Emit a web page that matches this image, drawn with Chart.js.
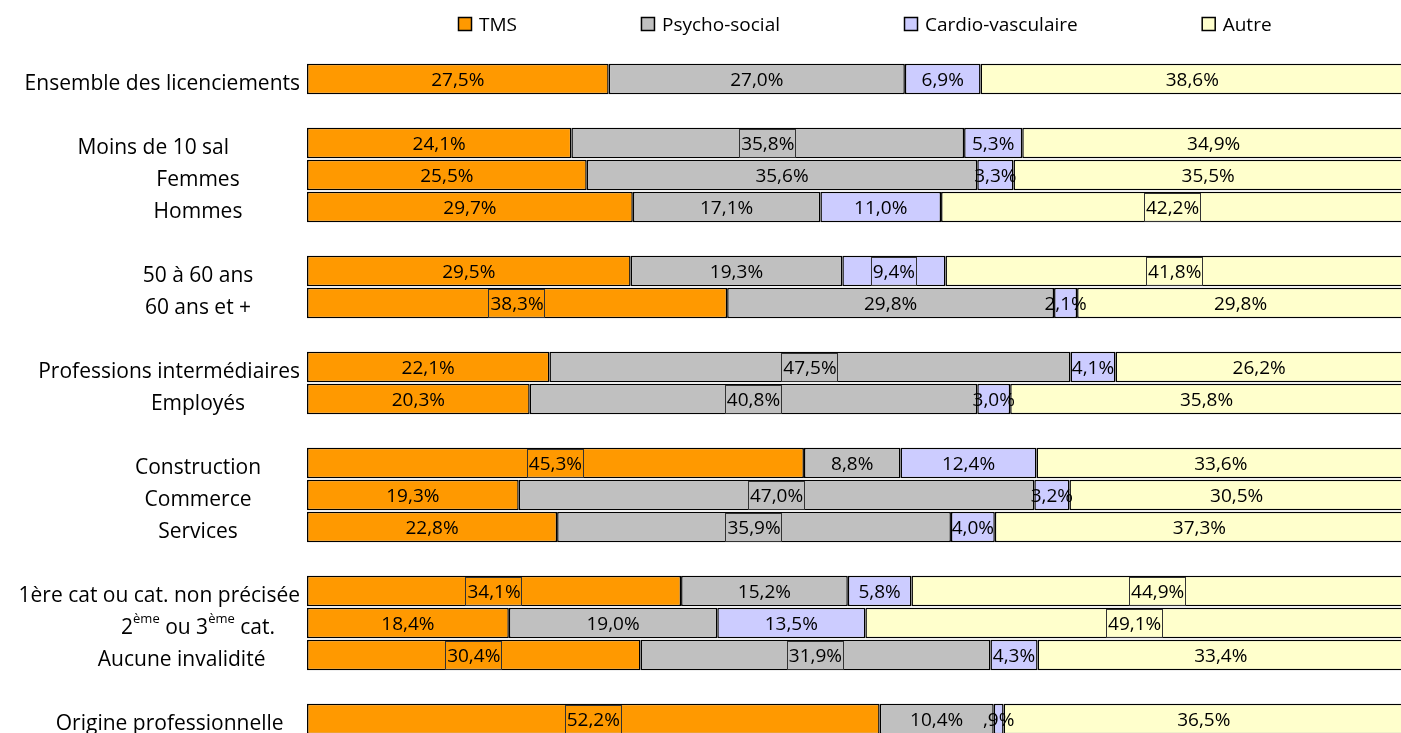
<!DOCTYPE html>
<html lang="fr">
<head>
<meta charset="utf-8">
<script src="https://cdn.jsdelivr.net/npm/chart.js@4.4.1/dist/chart.umd.min.js"></script>
<style>
	body { margin: 0; background: #fff; overflow: hidden; }
	.wrap { position: relative; width: 1404px; height: 735px; }
</style>
</head>
<body>
<div class="wrap"><canvas id="licenciements"></canvas></div>
<script>
// '' = ligne vide entre les groupes
const categories = [
	'Ensemble des licenciements',
	'',
	'Moins de 10 sal             ',
	'Femmes',
	'Hommes',
	'',
	'50 à 60 ans',
	'60 ans et +',
	'',
	'Professions intermédiaires',
	'Employés',
	'',
	'Construction',
	'Commerce',
	'Services',
	'',
	'1ère cat ou cat. non précisée',
	'2<sup>ème</sup> ou 3<sup>ème</sup> cat.',
	'Aucune invalidité      ',
	'',
	'Origine professionnelle   ',
];

const seriesNames = ['TMS', 'Psycho-social', 'Cardio-vasculaire', 'Autre'];

const tms    = [27.5, null, 24.1, 25.5, 29.7, null, 29.5, 38.3, null, 22.1, 20.3, null, 45.3, 19.3, 22.8, null, 34.1, 18.4, 30.4, null, 52.2];
const psycho = [27.0, null, 35.8, 35.6, 17.1, null, 19.3, 29.8, null, 47.5, 40.8, null, 8.8, 47.0, 35.9, null, 15.2, 19.0, 31.9, null, 10.4];
const cardio = [6.9, null, 5.3, 3.3, 11.0, null, 9.4, 2.1, null, 4.1, 3.0, null, 12.4, 3.2, 4.0, null, 5.8, 13.5, 4.3, null, 0.9];
const autre  = [38.6, null, 34.9, 35.5, 42.2, null, 41.8, 29.8, null, 26.2, 35.8, null, 33.6, 30.5, 37.3, null, 44.9, 49.1, 33.4, null, 36.5];

// étiquettes encadrées dans l'original (ligne:série)
const boxedLabels = ['2:1', '4:3', '6:2', '6:3', '7:0', '9:1', '10:1', '12:0', '13:1', '14:1', '16:0', '16:3', '17:3', '18:0', '18:1', '20:0'];

const FONT = '"Open Sans", "Noto Sans", sans-serif';

// format Excel "#,#%" : 0,9 -> ",9%"
const fmtPct = v => {
	let s = v.toFixed(1).replace('.', ',');
	if (v < 1) s = s.replace(/^0/, '');
	return s + '%';
};

const legendPlugin = {
	id: 'excelLegend',
	afterDraw(chart) {
		const ctx = chart.ctx;
		ctx.save();
		ctx.font = '19px ' + FONT;
		ctx.textAlign = 'left';
		ctx.textBaseline = 'alphabetic';
		const items = chart.data.datasets.map(ds => ({ text: ds.label, color: ds.backgroundColor, w: ctx.measureText(ds.label).width }));
		const gap = 124;
		const total = items.reduce((a, it) => a + 14 + 7 + it.w, 0) + gap * (items.length - 1);
		let x = Math.round(865 - total / 2);
		items.forEach(it => {
			ctx.fillStyle = it.color;
			ctx.fillRect(x, 17, 14, 14);
			ctx.strokeStyle = '#000';
			ctx.lineWidth = 1.5;
			ctx.strokeRect(x + 0.5, 17.5, 13, 13);
			ctx.fillStyle = '#000';
			ctx.fillText(it.text, x + 21, 30.5);
			x += 21 + it.w + gap;
		});
		ctx.restore();
	}
};

const categoryLabelsPlugin = {
	id: 'categoryLabels',
	afterDraw(chart) {
		const ctx = chart.ctx;
		const yScale = chart.scales.y;
		ctx.save();
		ctx.fillStyle = '#000';
		ctx.textAlign = 'left';
		ctx.textBaseline = 'alphabetic';
		categories.forEach((label, i) => {
			if (!label) return;
			const parts = label.split(/<sup>|<\/sup>/).map((t, k) => ({ t, sup: k % 2 === 1 }));
			let w = 0;
			parts.forEach(p => {
				ctx.font = (p.sup ? '13px ' : '21px ') + FONT;
				p.w = ctx.measureText(p.t).width;
				w += p.w;
			});
			const cx = Math.min(198, 300 - w / 2);
			let x = cx - w / 2;
			const base = yScale.getPixelForValue(i) + 11;
			parts.forEach(p => {
				ctx.font = (p.sup ? '13px ' : '21px ') + FONT;
				ctx.fillText(p.t, x, p.sup ? base - 11 : base);
				x += p.w;
			});
		});
		ctx.restore();
	}
};

const dataLabelsPlugin = {
	id: 'dataLabels',
	afterDatasetsDraw(chart) {
		const ctx = chart.ctx;
		ctx.save();
		ctx.font = '19px ' + FONT;
		ctx.textAlign = 'center';
		ctx.textBaseline = 'alphabetic';
		chart.data.datasets.forEach((ds, d) => {
			chart.getDatasetMeta(d).data.forEach((bar, i) => {
				const v = ds.data[i];
				if (v == null) return;
				const { x, base, y } = bar.getProps(['x', 'base', 'y'], true);
				const cx = (x + base) / 2;
				const txt = fmtPct(v);
				if (boxedLabels.includes(i + ':' + d)) {
					const w = ctx.measureText(txt).width;
					ctx.strokeStyle = '#333';
					ctx.lineWidth = 1;
					ctx.strokeRect(Math.round(cx - w / 2 - 2) + 0.5, Math.round(y - 14) + 0.5, Math.round(w + 3), 28);
				}
				ctx.fillStyle = '#000';
				ctx.fillText(txt, cx, y + 7);
			});
		});
		ctx.restore();
	}
};

const data_licenciements = {
	labels: categories,
	datasets: [
		{
			label: seriesNames[0],
			data: tms,
			backgroundColor: '#FF9900',
			borderColor: '#000',
			borderWidth: 1.5,
			borderSkipped: false,
		},
		{
			label: seriesNames[1],
			data: psycho,
			backgroundColor: '#C0C0C0',
			borderColor: '#000',
			borderWidth: 1.5,
			borderSkipped: false,
		},
		{
			label: seriesNames[2],
			data: cardio,
			backgroundColor: '#CCCCFF',
			borderColor: '#000',
			borderWidth: 1.5,
			borderSkipped: false,
		},
		{
			label: seriesNames[3],
			data: autre,
			backgroundColor: '#FFFFCC',
			borderColor: '#000',
			borderWidth: 1.5,
			borderSkipped: false,
		},
	]
};

const config_licenciements = {
	type: 'bar',
	data: data_licenciements,
	options: {
		indexAxis: 'y',
		responsive: true,
		maintainAspectRatio: false,
		animation: false,
		barPercentage: 0.96,
		categoryPercentage: 1,
		layout: {
			padding: { top: 63, left: 307, right: 0, bottom: 0 }
		},
		plugins: {
			legend: { display: false },
			title: { display: false },
			tooltip: { enabled: false }
		},
		scales: {
			x: {
				stacked: true,
				min: 0,
				max: 100,
				display: false
			},
			y: {
				stacked: true,
				display: false
			}
		}
	},
	plugins: [legendPlugin, categoryLabelsPlugin, dataLabelsPlugin]
};

const licenciements = new Chart(document.getElementById('licenciements'), config_licenciements);
</script>
</body>
</html>
